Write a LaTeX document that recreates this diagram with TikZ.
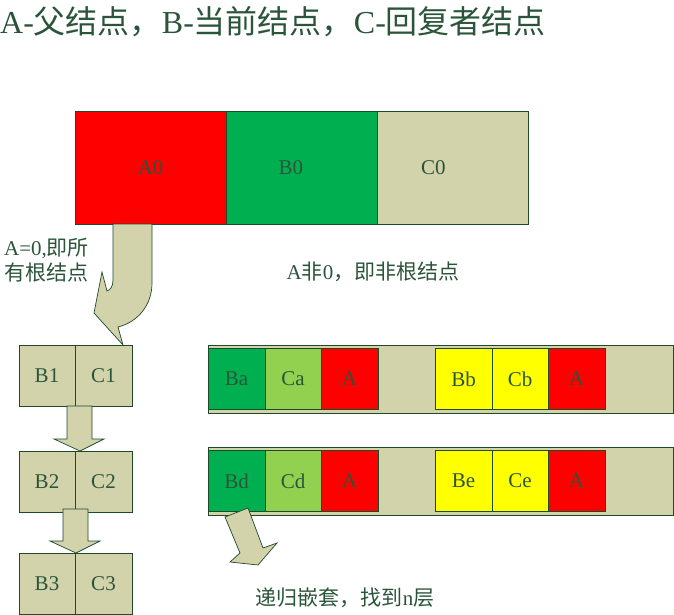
\documentclass[tikz,border=0pt]{standalone}
\usepackage{fontspec}
\setmainfont{Liberation Serif}
\newfontfamily\cjk{Noto Sans CJK SC}
\usetikzlibrary{positioning, calc}
\definecolor{HotRed}{HTML}{FF0000}
\definecolor{LeafGreen}{HTML}{00B050}
\definecolor{LimeGreen}{HTML}{92D050}
\definecolor{SunYellow}{HTML}{FFFF00}
\definecolor{PaleOlive}{HTML}{D2D2AB}
\definecolor{EdgeGreen}{HTML}{1E4A2C}
\definecolor{InkGreen}{HTML}{2B553A}
\tikzset{
  cellbox/.style={draw=EdgeGreen, line width=0.9pt, minimum height=61, inner sep=0pt, outer sep=0pt, text=InkGreen, font=\fontsize{21}{24}\selectfont},
  barbox/.style={draw=EdgeGreen, line width=0.9pt, fill=PaleOlive, minimum height=68, inner sep=0pt, outer sep=0pt},
  blockarrow/.style={draw=EdgeGreen, line width=0.7pt, fill=PaleOlive, line join=miter},
  note/.style={text=InkGreen, inner sep=0pt, font=\fontsize{21}{25}\selectfont},
  headline/.style={text=InkGreen, inner sep=0pt, font=\fontsize{32}{36}\selectfont}
}

\begin{document}
\begin{tikzpicture}[x=1pt, y=-1pt]
\useasboundingbox (0,0) rectangle (674,615);
\node[headline, anchor=west] (title) at (0,22) {A-{\cjk 父结点，}B-{\cjk 当前结点，}C-{\cjk 回复者结点}};
% top record
\node[cellbox, fill=HotRed, minimum width=151.3, minimum height=113, anchor=north west] (A0) at (75,111) {A0};
\node[cellbox, fill=LeafGreen, minimum width=151.3, minimum height=113, right=0pt of A0] (B0) {};
\node[cellbox, fill=PaleOlive, minimum width=151.3, minimum height=113, right=0pt of B0] (C0) {};
\node[cellbox, draw=none] at ([xshift=-11pt]B0.center) {B0};
\node[cellbox, draw=none] at ([xshift=-20pt]C0.center) {C0};
% root chain
\node[cellbox, fill=PaleOlive, minimum width=56, anchor=north west] (B1) at (19,345) {B1};
\node[cellbox, fill=PaleOlive, minimum width=57, right=0pt of B1] (C1) {C1};
\node[cellbox, fill=PaleOlive, minimum width=56, below=45pt of B1] (B2) {B2};
\node[cellbox, fill=PaleOlive, minimum width=57, right=0pt of B2] (C2) {C2};
\node[cellbox, fill=PaleOlive, minimum width=56, below=41pt of B2] (B3) {B3};
\node[cellbox, fill=PaleOlive, minimum width=57, right=0pt of B3] (C3) {C3};
% non-root rows
\node[barbox, minimum width=465, anchor=north west] (row1) at (208,345) {};
\node[cellbox, fill=LeafGreen, minimum width=57, anchor=west] (Ba) at (row1.west) {Ba};
\node[cellbox, fill=LimeGreen, minimum width=56, right=0pt of Ba] (Ca) {Ca};
\node[cellbox, fill=HotRed, minimum width=57, right=0pt of Ca] (Aa) {A};
\node[cellbox, fill=SunYellow, minimum width=57, right=57pt of Aa] (Bb) {Bb};
\node[cellbox, fill=SunYellow, minimum width=56, right=0pt of Bb] (Cb) {Cb};
\node[cellbox, fill=HotRed, minimum width=57, right=0pt of Cb] (Ab) {A};
\node[barbox, minimum width=465, below=34pt of row1] (row2) {};
\node[cellbox, fill=LeafGreen, minimum width=57, anchor=west] (Bd) at (row2.west) {Bd};
\node[cellbox, fill=LimeGreen, minimum width=56, right=0pt of Bd] (Cd) {Cd};
\node[cellbox, fill=HotRed, minimum width=57, right=0pt of Cd] (Ad) {A};
\node[cellbox, fill=SunYellow, minimum width=57, right=57pt of Ad] (Be) {Be};
\node[cellbox, fill=SunYellow, minimum width=56, right=0pt of Be] (Ce) {Ce};
\node[cellbox, fill=HotRed, minimum width=57, right=0pt of Ce] (Ae) {A};
% block arrows
\draw[blockarrow] (113,224) -- (113,280) .. controls (113,287) and (110,290) .. (107,291)
  -- (102,272) -- (94,313) -- (123,345) -- (118,327)
  .. controls (138,322) and (152,305) .. (152,283) -- (152,224) -- cycle;
\draw[blockarrow] (67,406) -- (67,439) -- (54,439) -- (80,451) -- (104,439) -- (92,439) -- (92,406) -- cycle;
\draw[blockarrow] (63,509) -- (63,541) -- (50,541) -- (76,553) -- (100,541) -- (88,541) -- (88,509) -- cycle;
\draw[blockarrow] (225,517) -- (240,553) -- (230,562) -- (258,565) -- (277,543) -- (263,548) -- (248,508) -- cycle;
% notes
\node[note, anchor=west, align=left] (rootnote) at (4,260) {A=0,{\cjk 即所}\\{\cjk 有根结点}};
\node[note] (childnote) at (373,272) {A{\cjk 非}0{\cjk ，即非根结点}};
\node[note] (deepnote) at (345,598) {{\cjk 递归嵌套，找到}n{\cjk 层}};
\end{tikzpicture}
\end{document}
